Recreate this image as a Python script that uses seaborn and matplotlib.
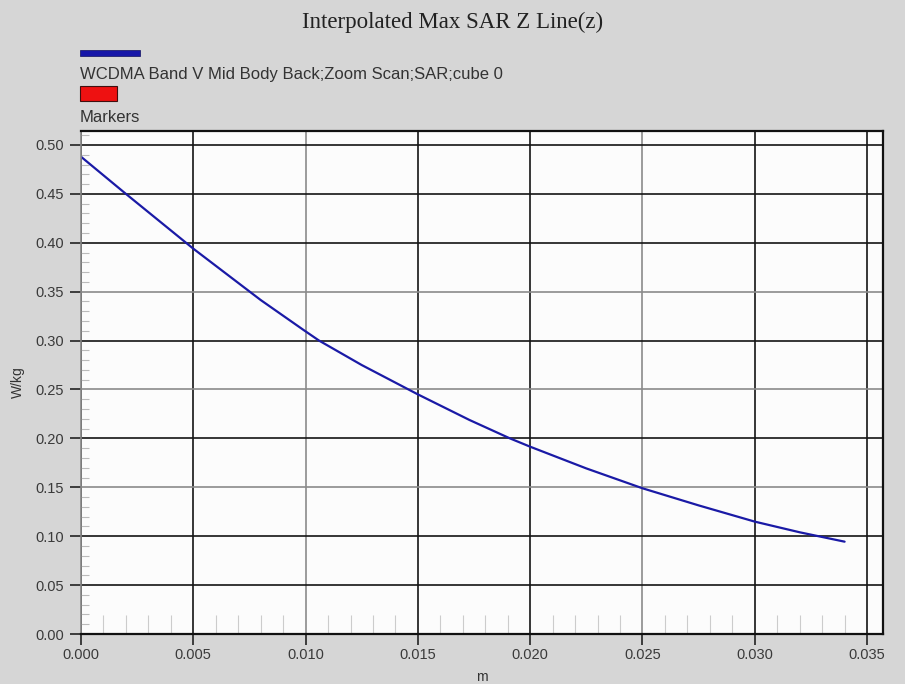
import matplotlib
matplotlib.use("Agg")
import matplotlib.pyplot as plt
from matplotlib.patches import Rectangle
from matplotlib.ticker import MultipleLocator, FormatStrFormatter
import seaborn as sns
import pandas as pd

# ---- data ----
z_m = [0.0000, 0.0020, 0.0050, 0.0080, 0.0099, 0.0106, 0.0125, 0.0150,
       0.0173, 0.0191, 0.0200, 0.0225, 0.0250, 0.0275, 0.0300, 0.0320,
       0.0340]
sar_wkg = [0.488, 0.450, 0.394, 0.3415, 0.311, 0.300, 0.275, 0.245,
           0.2188, 0.200, 0.1915, 0.1693, 0.149, 0.1315, 0.1149, 0.1040,
           0.0944]
series_name = "WCDMA Band V Mid Body Back;Zoom Scan;SAR;cube 0"
marker_name = "Markers"
title = "Interpolated Max SAR Z Line(z)"
xlabel = "m"
ylabel = "W/kg"

df = pd.DataFrame({"z": z_m, "sar": sar_wkg})

sns.set_theme(style="white")
plt.rcParams["font.family"] = ["Liberation Sans", "DejaVu Sans"]

W, H = 905, 684
fig = plt.figure(figsize=(W / 100, H / 100), dpi=100, facecolor="#d6d6d6")
ax = fig.add_axes([81 / W, (H - 634) / H, 802 / W, 503 / H])
ax.set_facecolor("#fcfcfc")

sns.lineplot(data=df, x="z", y="sar", ax=ax, color="#1a1aa6", linewidth=1.6)

ax.set_xlim(0, 0.03571)
ax.set_ylim(0, 0.5143)
ax.xaxis.set_major_locator(MultipleLocator(0.005))
ax.yaxis.set_major_locator(MultipleLocator(0.05))
ax.xaxis.set_minor_locator(MultipleLocator(0.001))
ax.yaxis.set_minor_locator(MultipleLocator(0.01))
ax.xaxis.set_major_formatter(FormatStrFormatter("%.3f"))
ax.yaxis.set_major_formatter(FormatStrFormatter("%.2f"))

ax.grid(True, which="major", linewidth=1.2)
dark, light = "#151515", "#8a8a8a"
ygrid_light = {0.10, 0.25, 0.35, 0.45}
xgrid_light = {0.010, 0.025}
for t in ax.yaxis.get_major_ticks():
    v = round(t.get_loc(), 3)
    t.gridline.set_color(light if v in ygrid_light else dark)
for t in ax.xaxis.get_major_ticks():
    v = round(t.get_loc(), 3)
    t.gridline.set_color(light if v in xgrid_light else dark)

ax.tick_params(axis="both", which="major", direction="out", length=8,
               width=1.2, color="#222222", labelsize=10.5, labelcolor="#3a3a3a",
               bottom=True, left=True)
ax.tick_params(axis="y", which="major", pad=4)
ax.tick_params(axis="x", which="major", pad=2)
ax.tick_params(axis="x", which="minor", direction="in", length=14,
               width=0.8, color="#cccccc", bottom=True)
ax.tick_params(axis="y", which="minor", direction="in", length=6,
               width=0.8, color="#bbbbbb", left=True)

for side in ["top", "right", "bottom"]:
    ax.spines[side].set_color("#111111")
    ax.spines[side].set_linewidth(1.6)
ax.spines["left"].set_color("#888888")
ax.spines["left"].set_linewidth(1.2)

ax.set_xlabel(xlabel, fontsize=10, color="#333333", labelpad=6)
ax.set_ylabel(ylabel, fontsize=10, color="#333333", labelpad=8)

fig.text(453 / W, 1 - 22 / H, title, ha="center", va="center",
         fontsize=16.5, family="Liberation Serif", color="#222222")

# legend block
fig.patches.append(Rectangle((80 / W, 1 - 56 / H), 60 / W, 6 / H,
                             transform=fig.transFigure, facecolor="#1616a8",
                             edgecolor="#101060", linewidth=0.5))
fig.text(80 / W, 1 - 74 / H, series_name, ha="left", va="center",
         fontsize=12, color="#333333")
fig.patches.append(Rectangle((80 / W, 1 - 101 / H), 37 / W, 15 / H,
                             transform=fig.transFigure, facecolor="#ee1111",
                             edgecolor="#401010", linewidth=0.8))
fig.text(80 / W, 1 - 117 / H, marker_name, ha="left", va="center",
         fontsize=12, color="#333333")

fig.savefig("out.png", dpi=100, facecolor=fig.get_facecolor())
